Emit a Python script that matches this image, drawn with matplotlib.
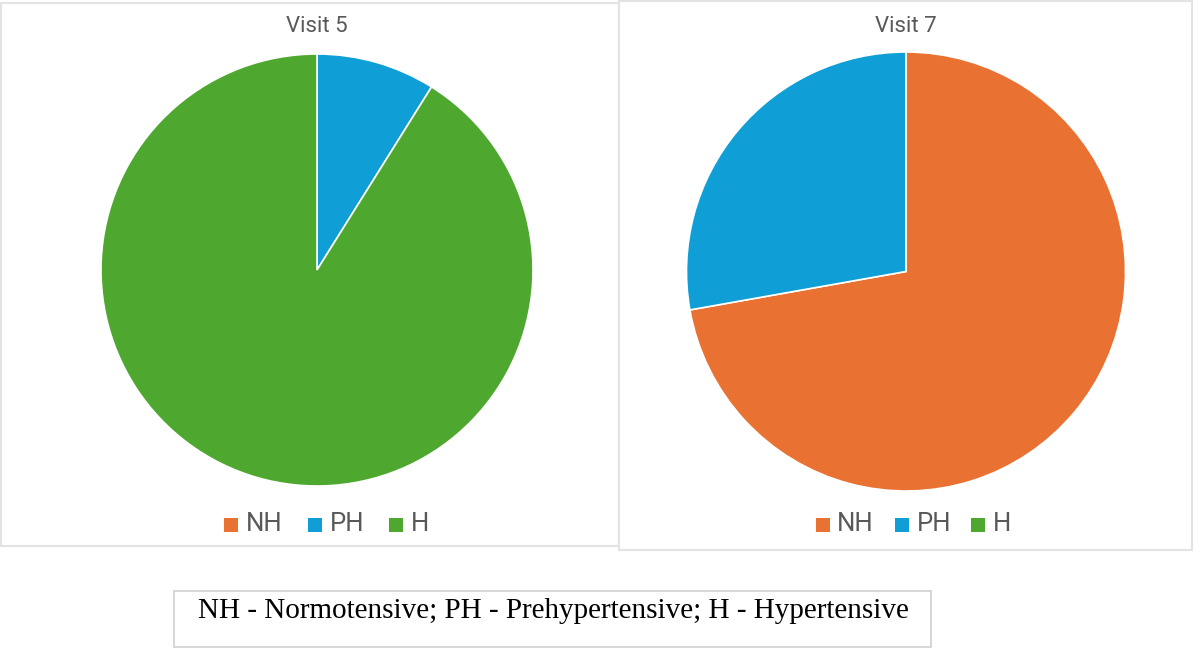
import matplotlib
matplotlib.use("Agg")
import matplotlib.pyplot as plt
from matplotlib.patches import Rectangle

# Daten
kategorien = ["NH", "PH", "H"]
farben = ["#E97132", "#0F9ED5", "#4EA72E"]
titel = ["Visit 5", "Visit 7"]
visit5 = [0.0, 8.9, 91.1]
visit7 = [72.2, 27.8, 0.0]
fussnote = "NH - Normotensive; PH - Prehypertensive; H - Hypertensive"

W, H = 1200, 658
fig = plt.figure(figsize=(W / 100, H / 100), dpi=100)
fig.patch.set_facecolor("white")


def fx(x):
    return x / W


def fy(y):
    return 1 - y / H


def panel(x0, y0, x1, y1, farbe="#e3e3e3", lw=1.5, z=-2):
    r = Rectangle((fx(x0), fy(y1)), fx(x1) - fx(x0), fy(y0) - fy(y1),
                  transform=fig.transFigure, facecolor="white",
                  edgecolor=farbe, linewidth=lw, zorder=z)
    fig.add_artist(r)


def kuchen(werte, cx, cy, r, name, lx, text_x):
    ax = fig.add_axes([fx(cx - r), fy(cy + r), 2 * r / W, 2 * r / H])
    ax.pie(werte, colors=farben, startangle=90, counterclock=False,
           wedgeprops={"edgecolor": "white", "linewidth": 1.2})
    ax.set_xlim(-1.0, 1.0)
    ax.set_ylim(-1.0, 1.0)
    ax.patch.set_visible(False)
    fig.text(fx(cx), fy(26), name, ha="center", va="center",
             fontsize=16, color="#595959", family="Roboto")
    # Legende
    for i, k in enumerate(kategorien):
        sq = Rectangle((fx(lx[i]), fy(532)), 14 / W, 14 / H,
                       transform=fig.transFigure, facecolor=farben[i],
                       edgecolor="none")
        fig.add_artist(sq)
        fig.text(fx(text_x[i]), fy(524), k, ha="left", va="center",
                 fontsize=18.5, color="#595959", family="Roboto")


# Rahmen der beiden Diagramme
panel(1, 3, 619, 546, z=-3)
panel(619, 1, 1192, 550, z=-2)

kuchen(visit5, 317, 270, 216, titel[0], [224, 308, 389], [246, 330, 411])
kuchen(visit7, 906, 271.5, 219.5, titel[1], [816, 895, 971], [837, 917, 993])

# Fussnote
panel(174, 591, 931, 647, farbe="#cfcfcf", lw=1.2, z=-1)
fig.text(fx(553), fy(611), fussnote, ha="center", va="center",
         fontsize=21, color="black", family="Liberation Serif")

fig.savefig("out.png", dpi=100)
